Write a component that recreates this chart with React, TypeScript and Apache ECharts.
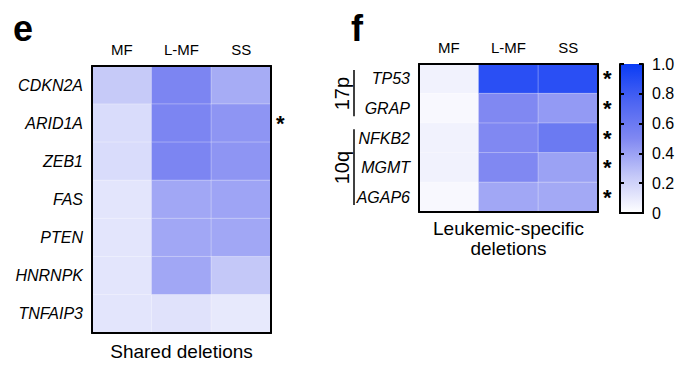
import React, { useEffect, useRef } from "react";
import * as echarts from "echarts";

const columns = ["MF", "L-MF", "SS"];

const genesE = ["CDKN2A", "ARID1A", "ZEB1", "FAS", "PTEN", "HNRNPK", "TNFAIP3"];
const mfE = [0.24, 0.16, 0.16, 0.12, 0.12, 0.12, 0.12];
const lmfE = [0.52, 0.52, 0.52, 0.38, 0.38, 0.38, 0.13];
const ssE = [0.36, 0.45, 0.45, 0.39, 0.38, 0.25, 0.1];
const significantE = ["ARID1A"];

const genesF = ["TP53", "GRAP", "NFKB2", "MGMT", "AGAP6"];
const mfF = [0.06, 0.03, 0.06, 0.06, 0.03];
const lmfF = [0.88, 0.5, 0.5, 0.5, 0.38];
const ssF = [0.88, 0.43, 0.6, 0.4, 0.37];
const significantF = ["TP53", "GRAP", "NFKB2", "MGMT", "AGAP6"];

const groupsF = [
  { name: "17p", from: "TP53", to: "GRAP" },
  { name: "10q", from: "NFKB2", to: "AGAP6" },
];

const colorbarTicks = [0, 0.2, 0.4, 0.6, 0.8, 1.0];
const rampColors = ["#ffffff", "#c4c8f8", "#8088f2", "#4c64f2", "#0a3cf5"];

const FONT = "'Liberation Sans', Arial, Helvetica, sans-serif";

function toCells(genes: string[], cols: number[][]) {
  const out: [number, number, number][] = [];
  cols.forEach((vals, ci) => {
    vals.forEach((v, ri) => out.push([ci, ri, v]));
  });
  return out;
}

function catAxesX(gridIndex: number, showLabels: boolean, position: string) {
  return {
    type: "category",
    gridIndex,
    data: columns,
    position,
    z: 10,
    axisLine: { show: true, lineStyle: { color: "#000", width: 2 } },
    axisTick: { show: false },
    splitLine: { show: false },
    axisLabel: {
      show: showLabels,
      color: "#000",
      fontSize: 15,
      fontFamily: FONT,
      margin: 9,
    },
  };
}

export default function App() {
  const ref = useRef<HTMLDivElement>(null);
  useEffect(() => {
    if (!ref.current) return;
    const chart = echarts.init(ref.current, undefined, { renderer: "svg" });

    const sigFmt = (sig: string[]) => (v: string) => (sig.includes(v) ? "*" : "");
    const yCat = (gridIndex: number, data: string[], position: string, labels: boolean, sig?: string[]) => ({
      type: "category",
      gridIndex,
      data,
      inverse: true,
      position,
      z: 10,
      axisLine: { show: true, lineStyle: { color: "#000", width: 2 } },
      axisTick: { show: false },
      splitLine: { show: false },
      axisLabel: sig
        ? {
            show: true,
            formatter: sigFmt(sig),
            color: "#000",
            fontSize: 22,
            fontWeight: "bold",
            fontFamily: FONT,
            margin: 5,
            verticalAlign: "middle",
            padding: [10, 0, 0, 0],
          }
        : {
            show: labels,
            color: "#000",
            fontSize: 16,
            fontStyle: "italic",
            fontFamily: FONT,
            margin: 9,
          },
    });

    const gradient = new echarts.graphic.LinearGradient(
      0,
      1,
      0,
      0,
      rampColors.map((c, i) => ({ offset: i / (rampColors.length - 1), color: c }))
    );

    const option: any = {
      animation: false,
      grid: [
        { left: 92, top: 66, width: 179, height: 267 },
        { left: 419, top: 64, width: 179, height: 148 },
        { left: 620, top: 64, width: 23, height: 149 },
      ],
      xAxis: [
        catAxesX(0, true, "top"),
        catAxesX(0, false, "bottom"),
        catAxesX(1, true, "top"),
        catAxesX(1, false, "bottom"),
        {
          type: "category",
          gridIndex: 2,
          data: [""],
          position: "bottom",
          z: 10,
          axisLine: { show: true, lineStyle: { color: "#000", width: 2 } },
          axisTick: { show: false },
          axisLabel: { show: false },
        },
        {
          type: "category",
          gridIndex: 2,
          data: [""],
          position: "top",
          z: 10,
          axisLine: { show: true, lineStyle: { color: "#000", width: 2 } },
          axisTick: { show: false },
          axisLabel: { show: false },
        },
      ],
      yAxis: [
        yCat(0, genesE, "left", true),
        yCat(0, genesE, "right", false, significantE),
        yCat(1, genesF, "left", true),
        yCat(1, genesF, "right", false, significantF),
        {
          type: "value",
          gridIndex: 2,
          position: "right",
          min: 0,
          max: 1,
          interval: 0.2,
          z: 10,
          axisLine: { show: true, lineStyle: { color: "#000", width: 2 } },
          axisTick: {
            show: true,
            inside: true,
            length: 4,
            lineStyle: { color: "#000", width: 2 },
          },
          splitLine: { show: false },
          axisLabel: {
            color: "#000",
            fontSize: 16,
            fontFamily: FONT,
            margin: 9,
            formatter: (v: number) =>
              colorbarTicks.includes(Math.round(v * 10) / 10)
                ? v === 0
                  ? "0"
                  : v.toFixed(1)
                : "",
          },
        },
        {
          type: "value",
          gridIndex: 2,
          position: "left",
          min: 0,
          max: 1,
          interval: 0.2,
          z: 10,
          axisLine: { show: true, lineStyle: { color: "#000", width: 2 } },
          axisTick: {
            show: true,
            inside: true,
            length: 4,
            lineStyle: { color: "#000", width: 2 },
          },
          splitLine: { show: false },
          axisLabel: { show: false },
        },
      ],
      visualMap: [
        {
          show: false,
          type: "continuous",
          min: 0,
          max: 1,
          seriesIndex: [0, 1],
          dimension: 2,
          inRange: { color: rampColors },
        },
      ],
      series: [
        {
          type: "heatmap",
          xAxisIndex: 0,
          yAxisIndex: 0,
          data: toCells(genesE, [mfE, lmfE, ssE]),
          itemStyle: { borderColor: "rgba(255,255,255,0.3)", borderWidth: 1 },
          label: { show: false },
        },
        {
          type: "heatmap",
          xAxisIndex: 2,
          yAxisIndex: 2,
          data: toCells(genesF, [mfF, lmfF, ssF]),
          itemStyle: { borderColor: "rgba(255,255,255,0.3)", borderWidth: 1 },
          label: { show: false },
        },
        {
          type: "bar",
          xAxisIndex: 4,
          yAxisIndex: 4,
          data: [colorbarTicks[colorbarTicks.length - 1]],
          barWidth: "100%",
          itemStyle: { color: gradient },
          silent: true,
        },
      ],
    };

    chart.setOption(option);

    // annotations placed from the axes' own scales
    const gE = chart.getModel().getComponent("grid", 0).coordinateSystem.getRect();
    const gF = chart.getModel().getComponent("grid", 1).coordinateSystem.getRect();
    const bandF = gF.height / genesF.length;
    const graphics: any[] = [
      {
        type: "text",
        left: 13,
        top: 10,
        style: { text: "e", font: `bold 36px ${FONT}`, fill: "#000" },
      },
      {
        type: "text",
        left: 351,
        top: 10,
        style: { text: "f", font: `bold 36px ${FONT}`, fill: "#000" },
      },
      {
        type: "text",
        x: gE.x + gE.width / 2,
        y: gE.y + gE.height + 9,
        style: {
          text: "Shared deletions",
          font: `19px ${FONT}`,
          fill: "#000",
          align: "center",
          verticalAlign: "top",
        },
      },
      {
        type: "text",
        x: gF.x + gF.width / 2,
        y: gF.y + gF.height + 6,
        style: {
          text: "Leukemic-specific\ndeletions",
          font: `19px ${FONT}`,
          lineHeight: 20,
          fill: "#000",
          align: "center",
          verticalAlign: "top",
        },
      },
    ];
    groupsF.forEach((g) => {
      const y1 = (chart.convertToPixel({ yAxisIndex: 2 } as any, g.from) as any) - bandF / 2;
      const y2 = (chart.convertToPixel({ yAxisIndex: 2 } as any, g.to) as any) + bandF / 2;
      const lx = gF.x - 65;
      graphics.push({
        type: "line",
        shape: { x1: lx, y1: y1 + 6, x2: lx, y2: y2 - 7 },
        style: { stroke: "#000", lineWidth: 1.5 },
      });
      graphics.push({
        type: "text",
        x: lx - 12,
        y: (y1 + y2) / 2,
        rotation: Math.PI / 2,
        style: {
          text: g.name,
          font: `20px ${FONT}`,
          fill: "#000",
          align: "center",
          verticalAlign: "middle",
        },
      });
    });
    chart.setOption({ graphic: graphics });

    return () => chart.dispose();
  }, []);

  return (
    <div
      ref={ref}
      style={{ position: "fixed", left: 0, top: 0, width: 680, height: 378, background: "#fff" }}
    />
  );
}
